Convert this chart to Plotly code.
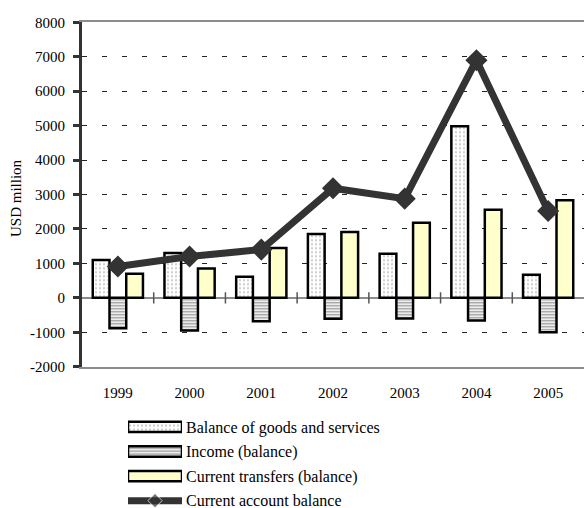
import plotly.graph_objects as go

# Balance of payments components, USD million
years = ["1999", "2000", "2001", "2002", "2003", "2004", "2005"]
goods_services = [1100, 1300, 610, 1850, 1280, 4980, 670]
income = [-880, -950, -680, -610, -600, -660, -1000]
current_transfers = [700, 850, 1450, 1910, 2180, 2560, 2830]
current_account = [910, 1200, 1400, 3180, 2880, 6900, 2520]

y_ticks = [-2000, -1000, 0, 1000, 2000, 3000, 4000, 5000, 6000, 7000, 8000]

series_names = [
    "Balance of goods and services",
    "Income (balance)",
    "Current transfers (balance)",
    "Current account balance",
]

FONT = "Liberation Serif"
W, H = 584, 508
x_idx = list(range(len(years)))

goods_pattern = dict(shape=".", fgcolor="#9a9a9a", bgcolor="white", size=4, solidity=0.25)
income_pattern = dict(shape="-", fgcolor="#222222", bgcolor="white", size=3, solidity=0.45)
transfer_fill = "#FFFFCC"
line_color = "#333333"
bar_line = dict(color="black", width=2.5)

fig = go.Figure()

fig.add_trace(go.Bar(x=x_idx, y=goods_services, name=series_names[0],
                     marker=dict(color="white", pattern=goods_pattern, line=bar_line)))
fig.add_trace(go.Bar(x=x_idx, y=income, name=series_names[1],
                     marker=dict(color="white", pattern=income_pattern, line=bar_line)))
fig.add_trace(go.Bar(x=x_idx, y=current_transfers, name=series_names[2],
                     marker=dict(color=transfer_fill, line=bar_line)))
fig.add_trace(go.Scatter(x=x_idx, y=current_account, name=series_names[3], mode="lines+markers",
                         line=dict(color=line_color, width=7),
                         marker=dict(symbol="diamond", size=17, color=line_color)))

# small tick marks on the zero line between the year groups
bounds = [i + 0.5 for i in range(len(years) - 1)]
fig.add_trace(go.Scatter(x=bounds, y=[0] * len(bounds), mode="markers", hoverinfo="skip",
                         marker=dict(symbol="line-ns", size=8,
                                     line=dict(color="#555555", width=1.5))))

# legend key drawn as a small panel below the chart
fig.add_trace(go.Bar(x=[1], y=[0], base=0, orientation="h", width=0.42, xaxis="x2", yaxis="y2",
                     marker=dict(color="white", pattern=goods_pattern, line=bar_line)))
fig.add_trace(go.Bar(x=[1], y=[1], base=0, orientation="h", width=0.42, xaxis="x2", yaxis="y2",
                     marker=dict(color="white", pattern=income_pattern, line=bar_line)))
fig.add_trace(go.Bar(x=[1], y=[2], base=0, orientation="h", width=0.42, xaxis="x2", yaxis="y2",
                     marker=dict(color=transfer_fill, line=bar_line)))
fig.add_trace(go.Scatter(x=[0, 0.5, 1], y=[3, 3, 3], mode="lines+markers", xaxis="x2", yaxis="y2",
                         line=dict(color=line_color, width=7),
                         marker=dict(symbol="diamond", size=[0, 11, 0], color=line_color)))

plot_left, plot_top, plot_bottom = 82, 22.3, 366.7

fig.update_layout(
    width=W, height=H,
    margin=dict(l=0, r=0, t=0, b=0),
    paper_bgcolor="white", plot_bgcolor="white",
    showlegend=False,
    barmode="group", bargap=0.3, bargroupgap=0,
    font=dict(family=FONT, size=15, color="black"),
    xaxis=dict(
        domain=[plot_left / W, 1], range=[-0.5, 6.5],
        tickmode="array", tickvals=x_idx, ticktext=years,
        showgrid=False, zeroline=False,
        showline=True, linecolor="#8c8c8c", linewidth=2, mirror=True,
        ticks="", ticklabelstandoff=11, automargin=False,
        tickfont=dict(family=FONT, size=15, color="black"),
    ),
    yaxis=dict(
        domain=[1 - plot_bottom / H, 1 - plot_top / H], range=[-2000, 8000],
        tickmode="array", tickvals=y_ticks, ticktext=[str(v) for v in y_ticks],
        showgrid=True, gridcolor="#222222", gridwidth=1, griddash="5px,15px",
        zeroline=True, zerolinecolor="#8c8c8c", zerolinewidth=2,
        showline=True, linecolor="#333333", linewidth=3,
        ticks="outside", ticklen=6, tickwidth=3, tickcolor="#333333",
        ticklabelstandoff=5, automargin=False,
        tickfont=dict(family=FONT, size=15, color="black"),
    ),
    xaxis2=dict(domain=[128 / W, 182 / W], range=[0, 1], anchor="y2", visible=False),
    yaxis2=dict(
        domain=[0, 1 - 419.6 / H], range=[3.3, -0.3], anchor="x2", side="right",
        tickmode="array", tickvals=[0, 1, 2, 3], ticktext=series_names,
        showgrid=False, zeroline=False, showline=False, ticks="",
        ticklabelstandoff=3, ticklabeloverflow="allow", automargin=False,
        tickfont=dict(family=FONT, size=16, color="black"),
    ),
    annotations=[dict(
        text="USD million", textangle=-90, showarrow=False,
        xref="paper", yref="paper", x=16 / W, y=1 - 198 / H,
        xanchor="center", yanchor="middle",
        font=dict(family=FONT, size=15, color="black"),
    )],
)

fig.write_html("out.html")
